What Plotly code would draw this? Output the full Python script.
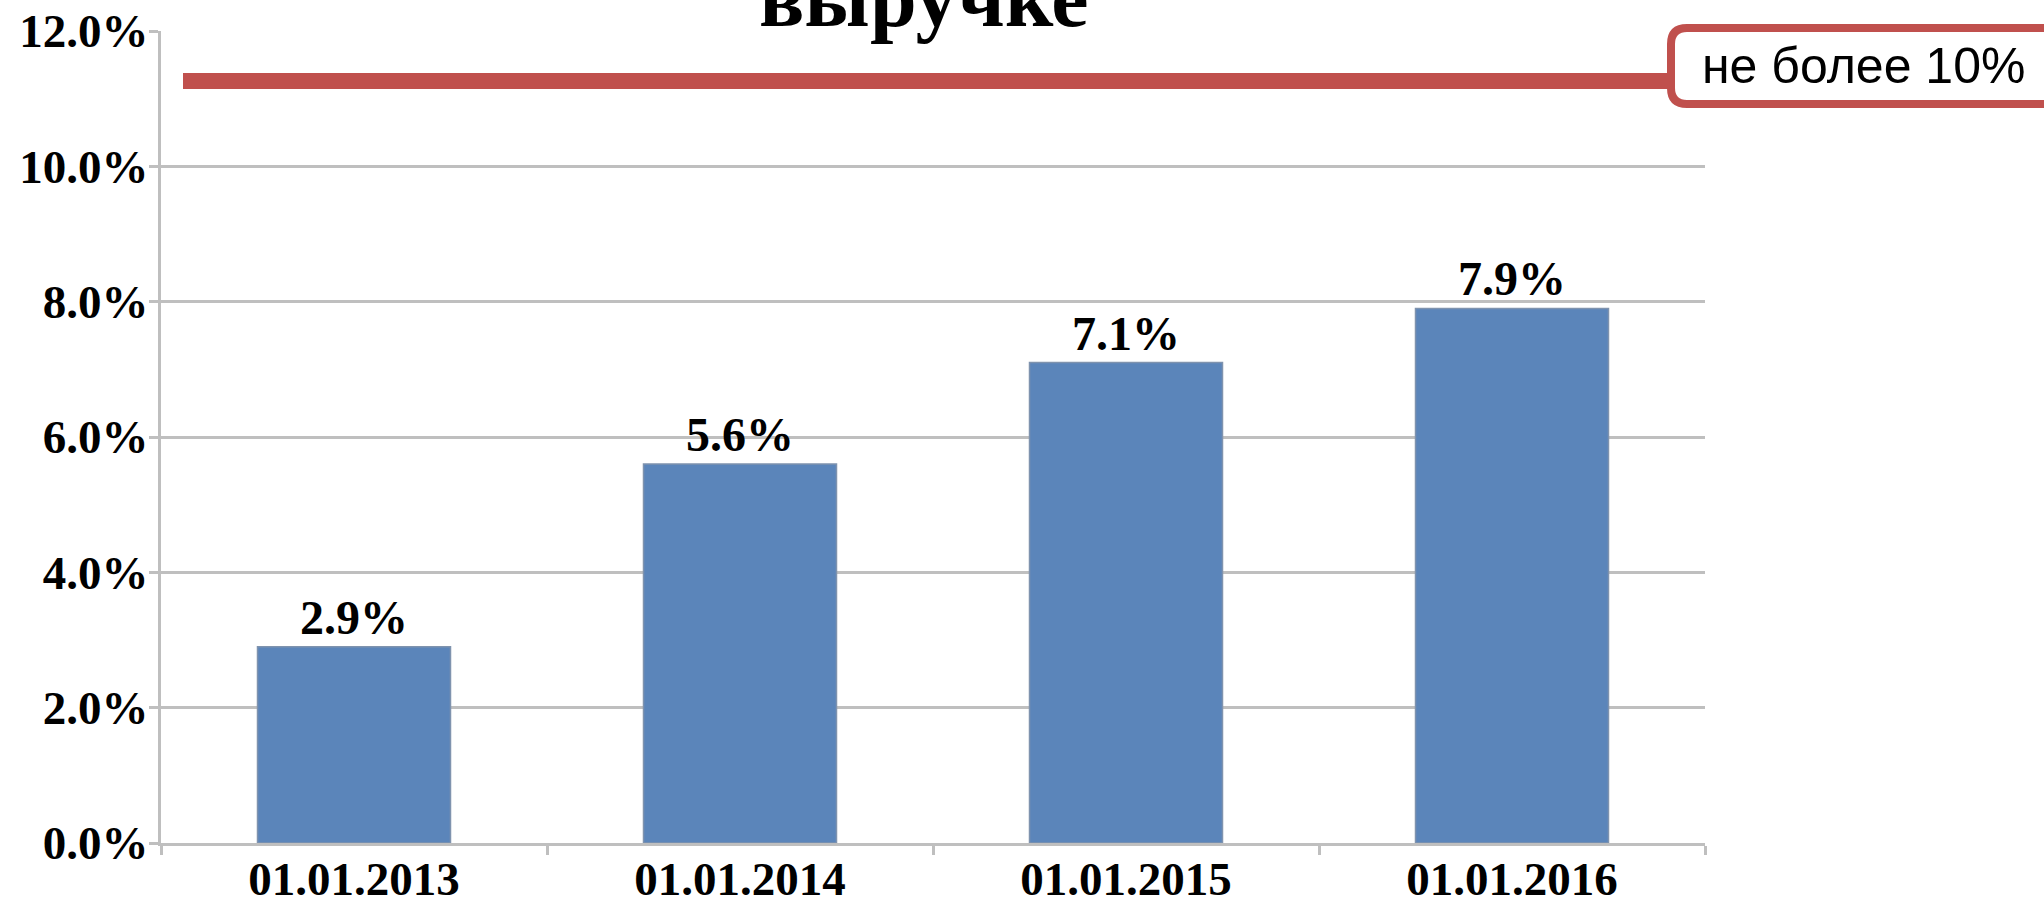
import plotly.graph_objects as go

# data
dates = ["01.01.2013", "01.01.2014", "01.01.2015", "01.01.2016"]
share_pct = [2.9, 5.6, 7.1, 7.9]
y_ticks = [0, 2, 4, 6, 8, 10, 12]
limit_line_y = 11.26
limit_label = "не более 10%"
title_tail = "выручке"

W, H = 2044, 904
L, R, T, B = 161, 339, 31, 61
pw, ph = W - L - R, H - T - B

RED = "#C0504D"
GRID = "#BFBFBF"
SERIF = "Liberation Serif, Times New Roman, serif"
SANS = "Liberation Sans, Arial, sans-serif"


def px_x(p):
    return (p - L) / pw


def px_y(p):
    return (H - B - p) / ph


fig = go.Figure(go.Bar(
    x=dates, y=share_pct,
    marker={"color": "#5B85BA", "line": {"color": "#7F93AE", "width": 1.5}},
    text=[f"{v:.1f}%" for v in share_pct],
    textposition="outside",
    textfont={"family": SERIF, "size": 48, "color": "black", "weight": "bold"},
    cliponaxis=False,
))

# limit line and rounded label box
bx0, bx1, by0, by1, r = px_x(1671), px_x(2080), px_y(28), px_y(104), 16
rx, ry = r / pw, r / ph
box = (f"M {bx0 + rx},{by0} L {bx1},{by0} L {bx1},{by1} L {bx0 + rx},{by1} "
       f"Q {bx0},{by1} {bx0},{by1 + ry} L {bx0},{by0 - ry} "
       f"Q {bx0},{by0} {bx0 + rx},{by0} Z")
fig.add_shape(type="line", xref="paper", yref="y", x0=px_x(183), x1=px_x(1670),
              y0=limit_line_y, y1=limit_line_y, line={"color": RED, "width": 16}, layer="above")
fig.add_shape(type="path", xref="paper", yref="paper", path=box,
              fillcolor="white", line={"color": RED, "width": 8}, layer="above")
fig.add_annotation(text=limit_label, xref="paper", yref="paper", x=px_x(1700), y=px_y(66),
                   xanchor="left", yanchor="middle", showarrow=False,
                   font={"family": SANS, "size": 50, "color": "black"})
fig.add_annotation(text=f"<b>{title_tail}</b>", xref="paper", yref="paper", x=px_x(924), y=px_y(28),
                   xanchor="center", yanchor="bottom", yshift=-18, showarrow=False,
                   font={"family": SERIF, "size": 84, "color": "black"})

fig.update_layout(
    width=W, height=H,
    margin={"l": L, "r": R, "t": T, "b": B, "pad": 0},
    plot_bgcolor="white", paper_bgcolor="white",
    bargap=0.5,
    showlegend=False,
    xaxis={
        "automargin": False,
        "showline": True, "linecolor": GRID, "linewidth": 3,
        "ticks": "outside", "tickson": "boundaries", "ticklen": 9, "tickwidth": 3, "tickcolor": GRID,
        "ticklabelstandoff": -7,
        "tickfont": {"family": SERIF, "size": 47, "color": "black", "weight": "bold"},
        "showgrid": False,
    },
    yaxis={
        "automargin": False,
        "range": [0, 12], "tickvals": y_ticks, "ticktext": [f"{v:.1f}%" for v in y_ticks],
        "showline": True, "linecolor": GRID, "linewidth": 3,
        "ticks": "outside", "ticklen": 9, "tickwidth": 3, "tickcolor": GRID,
        "ticklabelstandoff": -9,
        "showgrid": True, "gridcolor": GRID, "gridwidth": 3, "zeroline": False,
        "tickfont": {"family": SERIF, "size": 47, "color": "black", "weight": "bold"},
    },
)

fig.write_html("out.html", config={"displayModeBar": False},
               post_script="document.body.style.margin='0';")
